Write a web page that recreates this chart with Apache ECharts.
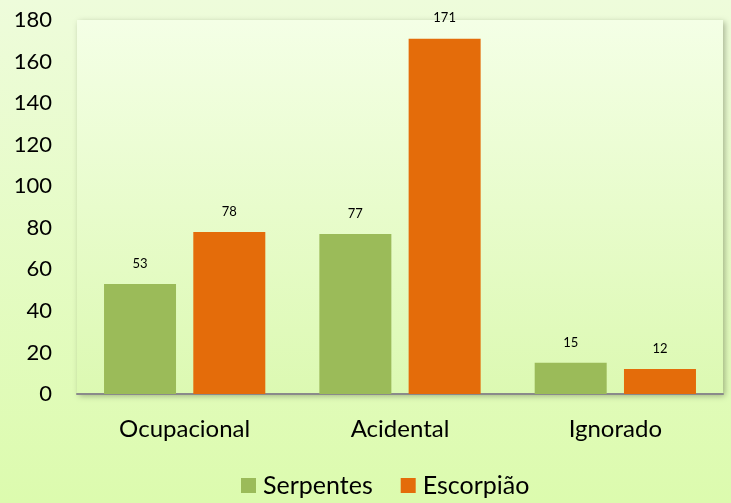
<!DOCTYPE html>
<html>
<head>
<meta charset="utf-8">
<script src="https://cdn.jsdelivr.net/npm/echarts@6/dist/echarts.min.js"></script>
<style>
  html, body { margin: 0; padding: 0; }
  #chart { width: 731px; height: 503px; }
</style>
</head>
<body>
<div id="chart"></div>
<script>
const categories = ['Ocupacional', 'Acidental', 'Ignorado'];
const serpentes = [53, 77, 15];
const escorpiao = [78, 171, 12];
const seriesNames = ['Serpentes', 'Escorpião'];

const chart = echarts.init(document.getElementById('chart'));

const option = {
    backgroundColor: new echarts.graphic.LinearGradient(0, 0, 0, 1, [
        { offset: 0, color: '#eefcdb' },
        { offset: 1, color: '#dcfbae' }
    ]),
    textStyle: { fontFamily: 'Lato, "Open Sans", sans-serif' },
    grid: {
        left: 77, right: 8, top: 20, bottom: 109,
        show: true,
        borderWidth: 0,
        backgroundColor: new echarts.graphic.LinearGradient(0, 0, 0, 1, [
            { offset: 0, color: '#f4ffe6' },
            { offset: 1, color: '#dcf9b2' }
        ]),
        shadowColor: 'rgba(80, 90, 60, 0.45)',
        shadowBlur: 6,
        shadowOffsetX: 2,
        shadowOffsetY: 2
    },
    legend: {
        bottom: 0,
        left: 236,
        itemWidth: 15,
        itemHeight: 15,
        itemGap: 28,
        icon: 'rect',
        data: seriesNames,
        textStyle: { fontSize: 25, color: '#000', padding: [0, 0, 0, 2] }
    },
    xAxis: {
        type: 'category',
        data: categories,
        axisTick: { show: false },
        axisLine: { lineStyle: { color: '#8a8a8a', width: 2 } },
        axisLabel: { fontSize: 24, color: '#000', margin: 23 }
    },
    yAxis: {
        type: 'value',
        min: 0, max: 180, interval: 20,
        splitLine: { show: false },
        axisLine: { show: false },
        axisTick: { show: false },
        axisLabel: { fontSize: 22, color: '#000', margin: 25 }
    },
    series: [
        {
            name: seriesNames[0],
            type: 'bar',
            data: serpentes,
            barWidth: 72,
            barGap: '24%',
            itemStyle: { color: '#9bbb59' },
            label: { show: true, position: 'top', distance: 14, fontSize: 13, color: '#000' }
        },
        {
            name: seriesNames[1],
            type: 'bar',
            data: escorpiao,
            barWidth: 72,
            barGap: '24%',
            itemStyle: { color: '#e46c0a' },
            label: { show: true, position: 'top', distance: 14, fontSize: 13, color: '#000' }
        }
    ]
};

chart.setOption(option);
window.addEventListener('resize', () => chart.resize());
</script>
</body>
</html>
